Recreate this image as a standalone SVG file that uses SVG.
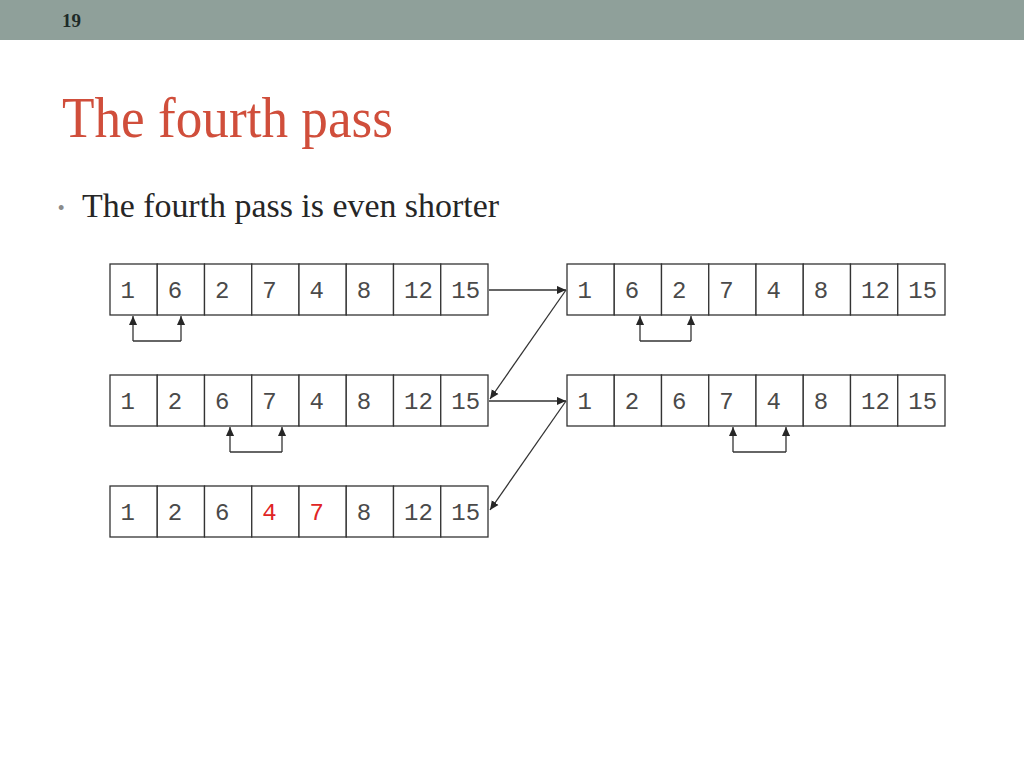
<svg xmlns="http://www.w3.org/2000/svg" width="1024" height="768" viewBox="0 0 1024 768">
<defs>
<marker id="ah" viewBox="0 0 10 10" refX="10" refY="5" markerWidth="9" markerHeight="9" markerUnits="userSpaceOnUse" orient="auto"><path d="M0,0.5 L10,5 L0,9.5 z" fill="#262626"/></marker>
<marker id="ahs" viewBox="0 0 10 10" refX="10" refY="5" markerWidth="9" markerHeight="9" markerUnits="userSpaceOnUse" orient="auto"><path d="M0,0.5 L10,5 L0,9.5 z" fill="#262626"/></marker>
<style>
.cell{fill:#fff;stroke:#333;stroke-width:1.3}
.num{font-family:"Liberation Mono","Courier New",monospace;font-size:24px;fill:#4a4a4a}
.red{fill:#e02424}
.conn{fill:none;stroke:#333;stroke-width:1.3}
</style>
<g id="cells">
<rect class="cell" x="0" y="0" width="47.25" height="51"/>
</g>
</defs>
<rect x="0" y="0" width="1024" height="40" fill="#8fa09a"/>
<text x="62" y="27" font-family="Liberation Serif,serif" font-weight="bold" font-size="19" fill="#1e2a28">19</text>
<text x="62" y="137" font-family="Liberation Serif,serif" font-size="58" fill="#d04e3b" textLength="331" lengthAdjust="spacingAndGlyphs">The fourth pass</text>
<text x="58" y="214" font-family="Liberation Sans,sans-serif" font-size="18" fill="#8a8a8a">•</text>
<text x="82" y="217" font-family="Liberation Serif,serif" font-size="33" fill="#262626" textLength="417" lengthAdjust="spacingAndGlyphs">The fourth pass is even shorter</text>

<g id="array1" transform="translate(110,264)">
<use href="#cells" x="0"/><use href="#cells" x="47.25"/><use href="#cells" x="94.5"/><use href="#cells" x="141.75"/><use href="#cells" x="189"/><use href="#cells" x="236.25"/><use href="#cells" x="283.5"/><use href="#cells" x="330.75"/>
<text class="num" y="34"><tspan x="10.5">1</tspan><tspan x="57.75">6</tspan><tspan x="105">2</tspan><tspan x="152.25">7</tspan><tspan x="199.5">4</tspan><tspan x="246.75">8</tspan><tspan x="294">12</tspan><tspan x="341.25">15</tspan></text>
</g>
<g id="array2" transform="translate(567,264)">
<use href="#cells" x="0"/><use href="#cells" x="47.25"/><use href="#cells" x="94.5"/><use href="#cells" x="141.75"/><use href="#cells" x="189"/><use href="#cells" x="236.25"/><use href="#cells" x="283.5"/><use href="#cells" x="330.75"/>
<text class="num" y="34"><tspan x="10.5">1</tspan><tspan x="57.75">6</tspan><tspan x="105">2</tspan><tspan x="152.25">7</tspan><tspan x="199.5">4</tspan><tspan x="246.75">8</tspan><tspan x="294">12</tspan><tspan x="341.25">15</tspan></text>
</g>
<g id="array3" transform="translate(110,375)">
<use href="#cells" x="0"/><use href="#cells" x="47.25"/><use href="#cells" x="94.5"/><use href="#cells" x="141.75"/><use href="#cells" x="189"/><use href="#cells" x="236.25"/><use href="#cells" x="283.5"/><use href="#cells" x="330.75"/>
<text class="num" y="34"><tspan x="10.5">1</tspan><tspan x="57.75">2</tspan><tspan x="105">6</tspan><tspan x="152.25">7</tspan><tspan x="199.5">4</tspan><tspan x="246.75">8</tspan><tspan x="294">12</tspan><tspan x="341.25">15</tspan></text>
</g>
<g id="array4" transform="translate(567,375)">
<use href="#cells" x="0"/><use href="#cells" x="47.25"/><use href="#cells" x="94.5"/><use href="#cells" x="141.75"/><use href="#cells" x="189"/><use href="#cells" x="236.25"/><use href="#cells" x="283.5"/><use href="#cells" x="330.75"/>
<text class="num" y="34"><tspan x="10.5">1</tspan><tspan x="57.75">2</tspan><tspan x="105">6</tspan><tspan x="152.25">7</tspan><tspan x="199.5">4</tspan><tspan x="246.75">8</tspan><tspan x="294">12</tspan><tspan x="341.25">15</tspan></text>
</g>
<g id="array5" transform="translate(110,486)">
<use href="#cells" x="0"/><use href="#cells" x="47.25"/><use href="#cells" x="94.5"/><use href="#cells" x="141.75"/><use href="#cells" x="189"/><use href="#cells" x="236.25"/><use href="#cells" x="283.5"/><use href="#cells" x="330.75"/>
<text class="num" y="34"><tspan x="10.5">1</tspan><tspan x="57.75">2</tspan><tspan x="105">6</tspan><tspan x="152.25" class="red">4</tspan><tspan x="199.5" class="red">7</tspan><tspan x="246.75">8</tspan><tspan x="294">12</tspan><tspan x="341.25">15</tspan></text>
</g>

<g id="connectors">
<path class="conn" d="M133,341 H181" /><path class="conn" d="M133,341 V316" marker-end="url(#ah)"/><path class="conn" d="M181,341 V316" marker-end="url(#ah)"/>
<path class="conn" d="M640,341 H691" /><path class="conn" d="M640,341 V316" marker-end="url(#ah)"/><path class="conn" d="M691,341 V316" marker-end="url(#ah)"/>
<path class="conn" d="M230,452 H282" /><path class="conn" d="M230,452 V427" marker-end="url(#ah)"/><path class="conn" d="M282,452 V427" marker-end="url(#ah)"/>
<path class="conn" d="M733,452 H786" /><path class="conn" d="M733,452 V427" marker-end="url(#ah)"/><path class="conn" d="M786,452 V427" marker-end="url(#ah)"/>
<path class="conn" d="M489,290 H566" marker-end="url(#ahs)"/>
<path class="conn" d="M566,290 L490,399" marker-end="url(#ahs)"/>
<path class="conn" d="M489,401 H566" marker-end="url(#ahs)"/>
<path class="conn" d="M566,401 L490,510" marker-end="url(#ahs)"/>
</g>
</svg>
